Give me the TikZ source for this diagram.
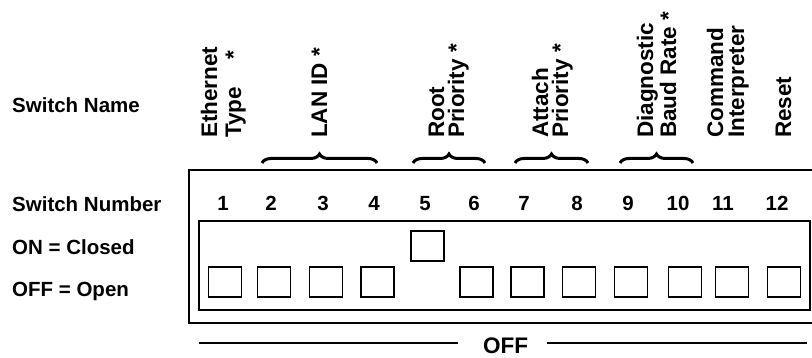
\documentclass[tikz,border=0pt]{standalone}
\usepackage{fontspec}
\setmainfont{Liberation Sans}
\usetikzlibrary{decorations.pathreplacing}
\begin{document}
\begin{tikzpicture}[x=1pt,y=-1pt,
  lbl/.style={font=\fontsize{20.5}{22}\selectfont\bfseries, anchor=base west, inner sep=0pt},
  num/.style={font=\fontsize{20.5}{22}\selectfont\bfseries, anchor=base, inner sep=0pt},
  vlbl/.style={font=\fontsize{22.5}{24}\selectfont\bfseries, rotate=90, anchor=base west, inner sep=0pt},
  sw/.style={draw, line width=1.8pt, minimum width=33pt, minimum height=30pt, inner sep=0pt},
  box/.style={line width=2pt},
  brc/.style={decorate, decoration={brace, amplitude=9pt}, line width=3pt},
  offline/.style={line width=1.3pt}]
\useasboundingbox (0,0) rectangle (812,358);

% left labels
\node[lbl] (sname) at (12,113) {Switch Name};
\node[lbl] (snum) at (12,212) {Switch Number};
\node[lbl] (on) at (12,255) {ON = Closed};
\node[lbl] (off) at (12,297) {OFF = Open};

% rotated labels
\node[vlbl] (eth1) at (217,138) {Ethernet};
\node[vlbl] (eth2) at (241,138) {Type\hspace{27pt}*};
\node[vlbl] (lan) at (327,138) {LAN ID *};
\node[vlbl] (root1) at (444,138) {Root};
\node[vlbl] (root2) at (464,138) {Priority *};
\node[vlbl] (att1) at (548,138) {Attach};
\node[vlbl] (att2) at (568,138) {Priority *};
\node[vlbl] (diag1) at (653,138) {Diagnostic};
\node[vlbl] (diag2) at (676,138) {Baud Rate *};
\node[vlbl] (cmd1) at (723,138) {Command};
\node[vlbl] (cmd2) at (744,138) {Interpreter};
\node[vlbl] (rst) at (791,138) {Reset};

% braces
\coordinate (b1a) at (262,163); \coordinate (b1b) at (377,163);
\coordinate (b2a) at (413,163); \coordinate (b2b) at (485,163);
\coordinate (b3a) at (515,163); \coordinate (b3b) at (588,163);
\coordinate (b4a) at (620,163); \coordinate (b4b) at (693,163);
\draw[brc] (b1a) -- (b1b);
\draw[brc] (b2a) -- (b2b);
\draw[brc] (b3a) -- (b3b);
\draw[brc] (b4a) -- (b4b);

% outer box (right side beyond the picture edge)
\coordinate (oTR) at (813,170); \coordinate (oTL) at (189,170);
\coordinate (oBL) at (189,323); \coordinate (oBR) at (813,323);
\draw[box] (oTR) -- (oTL) -- (oBL) -- (oBR);

% inner box
\coordinate (iTL) at (199,221); \coordinate (iBR) at (810,310);
\draw[box] (iTL) rectangle (iBR);

% switch numbers
\node[num] (n1) at (223,211) {1};
\node[num] (n2) at (271,211) {2};
\node[num] (n3) at (323,211) {3};
\node[num] (n4) at (374,211) {4};
\node[num] (n5) at (425,211) {5};
\node[num] (n6) at (474,211) {6};
\node[num] (n7) at (524,211) {7};
\node[num] (n8) at (577,211) {8};
\node[num] (n9) at (628,211) {9};
\node[num] (n10) at (678,211) {10};
\node[num] (n11) at (723,211) {11};
\node[num] (n12) at (777,211) {12};

% switches
\node[sw] (s1) at (225,282) {};
\node[sw] (s2) at (274,282) {};
\node[sw] (s3) at (326,282) {};
\node[sw] (s4) at (377.5,282) {};
\node[sw] (s5) at (427.5,246) {};
\node[sw] (s6) at (476.5,282) {};
\node[sw] (s7) at (527.5,282) {};
\node[sw] (s8) at (579,282) {};
\node[sw] (s9) at (631,282) {};
\node[sw] (s10) at (685,282) {};
\node[sw] (s11) at (732,282) {};
\node[sw] (s12) at (784,282) {};

% OFF line
\node[font=\fontsize{22.5}{24}\selectfont\bfseries, inner sep=0pt, anchor=base] (offlbl) at (505.5,353) {OFF};
\coordinate (offL1) at (199,343); \coordinate (offL2) at (458,343);
\coordinate (offR1) at (547,343); \coordinate (offR2) at (807,343);
\draw[offline] (offL1) -- (offL2);
\draw[offline] (offR1) -- (offR2);
\end{tikzpicture}
\end{document}
